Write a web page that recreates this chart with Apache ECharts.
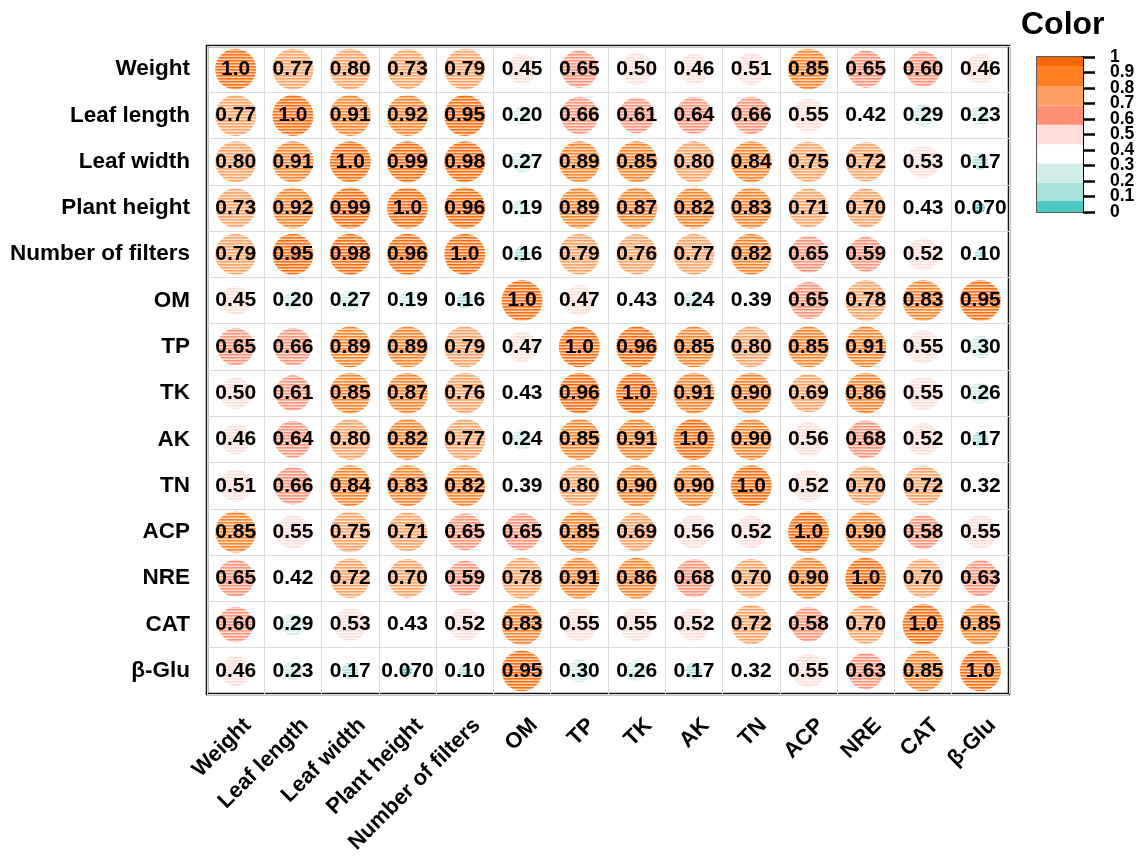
<!DOCTYPE html>
<html>
<head>
<meta charset="utf-8">
<script src="https://cdn.jsdelivr.net/npm/echarts@6/dist/echarts.min.js"></script>
<style>html,body{margin:0;padding:0;background:#fff;}#main{width:1144px;height:866px;}</style>
</head>
<body>
<div id="main"></div>
<script>
const variables = ['Weight','Leaf length','Leaf width','Plant height','Number of filters','OM','TP','TK','AK','TN','ACP','NRE','CAT','β-Glu'];

const rowWeight      = [1.0, 0.77, 0.80, 0.73, 0.79, 0.45, 0.65, 0.50, 0.46, 0.51, 0.85, 0.65, 0.60, 0.46];
const rowLeafLength  = [0.77, 1.0, 0.91, 0.92, 0.95, 0.20, 0.66, 0.61, 0.64, 0.66, 0.55, 0.42, 0.29, 0.23];
const rowLeafWidth   = [0.80, 0.91, 1.0, 0.99, 0.98, 0.27, 0.89, 0.85, 0.80, 0.84, 0.75, 0.72, 0.53, 0.17];
const rowPlantHeight = [0.73, 0.92, 0.99, 1.0, 0.96, 0.19, 0.89, 0.87, 0.82, 0.83, 0.71, 0.70, 0.43, 0.070];
const rowFilters     = [0.79, 0.95, 0.98, 0.96, 1.0, 0.16, 0.79, 0.76, 0.77, 0.82, 0.65, 0.59, 0.52, 0.10];
const rowOM          = [0.45, 0.20, 0.27, 0.19, 0.16, 1.0, 0.47, 0.43, 0.24, 0.39, 0.65, 0.78, 0.83, 0.95];
const rowTP          = [0.65, 0.66, 0.89, 0.89, 0.79, 0.47, 1.0, 0.96, 0.85, 0.80, 0.85, 0.91, 0.55, 0.30];
const rowTK          = [0.50, 0.61, 0.85, 0.87, 0.76, 0.43, 0.96, 1.0, 0.91, 0.90, 0.69, 0.86, 0.55, 0.26];
const rowAK          = [0.46, 0.64, 0.80, 0.82, 0.77, 0.24, 0.85, 0.91, 1.0, 0.90, 0.56, 0.68, 0.52, 0.17];
const rowTN          = [0.51, 0.66, 0.84, 0.83, 0.82, 0.39, 0.80, 0.90, 0.90, 1.0, 0.52, 0.70, 0.72, 0.32];
const rowACP         = [0.85, 0.55, 0.75, 0.71, 0.65, 0.65, 0.85, 0.69, 0.56, 0.52, 1.0, 0.90, 0.58, 0.55];
const rowNRE         = [0.65, 0.42, 0.72, 0.70, 0.59, 0.78, 0.91, 0.86, 0.68, 0.70, 0.90, 1.0, 0.70, 0.63];
const rowCAT         = [0.60, 0.29, 0.53, 0.43, 0.52, 0.83, 0.55, 0.55, 0.52, 0.72, 0.58, 0.70, 1.0, 0.85];
const rowBGlu        = [0.46, 0.23, 0.17, 0.070, 0.10, 0.95, 0.30, 0.26, 0.17, 0.32, 0.55, 0.63, 0.85, 1.0];

const legendEdges  = [0, 0.071, 0.1875, 0.3125, 0.4375, 0.5625, 0.6875, 0.8125, 0.9375, 1];
const legendColors = ['#4CC9C0','#A8E2DC','#D0EDEA','#FFFFFF','#FDDDD8','#FF8E72','#FF9E5E','#FF7F22','#FF6600'];
const legendTicks  = ['0','0.1','0.2','0.3','0.4','0.5','0.6','0.7','0.8','0.9','1'];

const matrix = [rowWeight,rowLeafLength,rowLeafWidth,rowPlantHeight,rowFilters,rowOM,rowTP,rowTK,rowAK,rowTN,rowACP,rowNRE,rowCAT,rowBGlu];

function colorFor(v){
  for (let i = 0; i < legendColors.length; i++) {
    if (v < legendEdges[i+1] || i === legendColors.length - 1) return legendColors[i];
  }
}
function mixWhite(hex, t){
  const n = parseInt(hex.slice(1), 16);
  const r = (n >> 16) & 255, g = (n >> 8) & 255, b = n & 255;
  const m = (c) => Math.round(c + (255 - c) * t);
  return 'rgb(' + m(r) + ',' + m(g) + ',' + m(b) + ')';
}
const patternCache = {};
function stripeFill(hex){
  if (patternCache[hex]) return patternCache[hex];
  const cv = document.createElement('canvas');
  cv.width = 4; cv.height = 3;
  const ctx = cv.getContext('2d');
  ctx.fillStyle = mixWhite(hex, 0.05); ctx.fillRect(0, 0, 4, 1);
  ctx.fillStyle = mixWhite(hex, 0.35); ctx.fillRect(0, 1, 4, 1);
  ctx.fillStyle = mixWhite(hex, 0.72); ctx.fillRect(0, 2, 4, 1);
  patternCache[hex] = { image: cv, repeat: 'repeat' };
  return patternCache[hex];
}
function sizeFor(v){ return Math.min(41, 48 * Math.pow(Math.abs(v), 0.6)); }

const FONT = 'Arial, "Liberation Sans", Helvetica, sans-serif';

const cells = [];
matrix.forEach((row, r) => row.forEach((v, c) => cells.push([c, r, v])));

function renderCell(params, api){
  const c = api.coord([api.value(0), api.value(1)]);
  const v = api.value(2);
  return {
    type: 'group',
    children: [
      { type: 'circle', shape: { cx: c[0], cy: c[1], r: sizeFor(v) / 2 },
        style: { fill: stripeFill(colorFor(v)) } },
      { type: 'text', x: c[0], y: c[1],
        style: { text: v.toPrecision(2), align: 'center', verticalAlign: 'middle',
          font: 'bold 21px ' + FONT, fill: '#000' } }
    ]
  };
}

const legendSeries = legendColors.map((col, i) => ({
  type: 'bar', xAxisIndex: 1, yAxisIndex: 1, stack: 'legend', barWidth: '100%',
  data: [legendEdges[i+1] - legendEdges[i]],
  itemStyle: { color: col }, silent: true
}));

function legendAxis(parity, showTicks){
  return { type: 'value', gridIndex: 1, position: 'right', min: 0, max: 1, interval: 0.1,
    axisLine: { show: true, lineStyle: { color: '#000', width: 2 } },
    axisTick: { show: showTicks, inside: false, length: 12, lineStyle: { color: '#000', width: 2.5 } },
    splitLine: { show: false },
    axisLabel: { margin: 27, showMinLabel: true, showMaxLabel: true, hideOverlap: false,
      fontFamily: FONT, fontWeight: 'bold', fontSize: 17.5, color: '#000',
      formatter: (v) => { const k = Math.round(v * 10); return (k % 2 === parity) ? legendTicks[k] : ''; } } };
}

const chart = echarts.init(document.getElementById('main'), null, { renderer: 'canvas' });
chart.setOption({
  animation: false,
  backgroundColor: '#fff',
  title: { text: 'Color', left: 1016, top: 4, textStyle: { fontFamily: FONT, fontWeight: 'bold', fontSize: 32, color: '#000' } },
  grid: [
    { left: 207, top: 46, width: 802, height: 648, show: true, borderColor: '#111', borderWidth: 2.5, backgroundColor: '#fff' },
    { left: 1037, top: 57, width: 46, height: 155, show: true, borderColor: '#222', borderWidth: 1.5 }
  ],
  xAxis: [
    { type: 'category', data: variables, gridIndex: 0,
      axisLine: { show: false }, axisTick: { show: false },
      splitLine: { show: true, lineStyle: { color: '#dcdcdc', width: 1 } },
      axisLabel: { rotate: 45, interval: 0, margin: 16, verticalAlign: 'top', padding: [6, 0, 0, 0],
        fontFamily: FONT, fontWeight: 'bold', fontSize: 22, color: '#000' } },
    { type: 'category', data: ['c'], gridIndex: 1, show: false }
  ],
  yAxis: [
    { type: 'category', data: variables, gridIndex: 0, inverse: true,
      axisLine: { show: false }, axisTick: { show: false },
      splitLine: { show: true, lineStyle: { color: '#dcdcdc', width: 1 } },
      axisLabel: { interval: 0, margin: 17, fontFamily: FONT, fontWeight: 'bold', fontSize: 22.5, color: '#000' } },
    legendAxis(0, true),
    legendAxis(1, false)
  ],
  series: [
    { type: 'custom', xAxisIndex: 0, yAxisIndex: 0, data: cells, renderItem: renderCell, silent: true },
    ...legendSeries
  ]
});
</script>
</body>
</html>
